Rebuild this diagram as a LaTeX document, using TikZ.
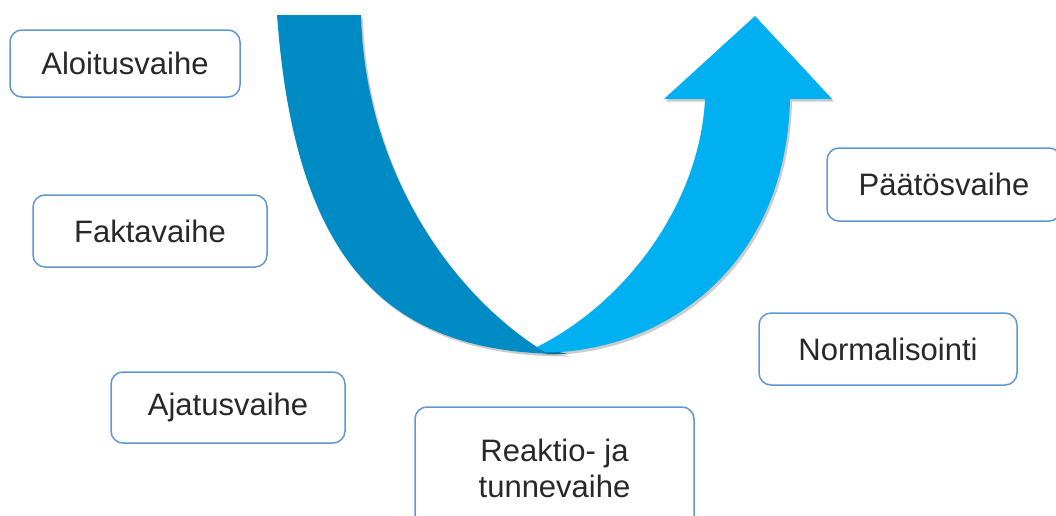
\documentclass[tikz,border=0pt]{standalone}
\usepackage{fontspec}
\setmainfont{Liberation Sans}
\usetikzlibrary{shadows}
\definecolor{ribbondark}{RGB}{0,139,196}
\definecolor{ribbonlight}{RGB}{0,176,240}
\definecolor{boxline}{RGB}{96,150,212}
\definecolor{boxtext}{RGB}{40,40,40}
\tikzset{
  phase/.style={draw=boxline, line width=1.5pt, rounded corners=12pt, fill=white,
    inner sep=0pt, align=center, text=boxtext,
    font=\fontsize{31}{36}\selectfont},
  ribbonshadow/.style={drop shadow={shadow xshift=2pt, shadow yshift=-2.5pt,
    opacity=0.2, fill=black}},
}
\begin{document}
\begin{tikzpicture}[x=1pt,y=-1pt]
\useasboundingbox (0,0) rectangle (1056,515);
\clip (0,0) rectangle (1056,515);

% descending (darker) half of the U-turn ribbon
\fill[ribbondark, ribbonshadow]
  (277,15) .. controls (295,260) and (385,355) .. (568,354)
  -- (537,347)
           .. controls (450,290) and (365,170) .. (361,15)
  -- cycle;

% ascending (lighter) half ending in the arrow head
\fill[ribbonlight, ribbonshadow]
  (537,347) .. controls (630,300) and (700,200) .. (705,99)
  -- (664,99) -- (755,16) -- (832,99) -- (790,99)
            .. controls (786,270) and (660,352) .. (545,352.5)
  -- cycle;

% phase boxes
\node[phase, minimum width=230pt, minimum height=67pt] (aloitus) at (125,63.5) {Aloitusvaihe};
\node[phase, minimum width=234pt, minimum height=72pt] (fakta) at (150,231) {Faktavaihe};
\node[phase, minimum width=234pt, minimum height=71pt] (ajatus) at (228,407.5) {Ajatusvaihe};
\node[phase, minimum width=279pt, minimum height=123pt] (reaktio) at (554.5,468.5) {Reaktio- ja\\tunnevaihe};
\node[phase, minimum width=258pt, minimum height=72pt] (normal) at (888,349) {Normalisointi};
\node[phase, minimum width=234pt, minimum height=73pt] (paatos) at (944,184.5) {Päätösvaihe};
\end{tikzpicture}
\end{document}
